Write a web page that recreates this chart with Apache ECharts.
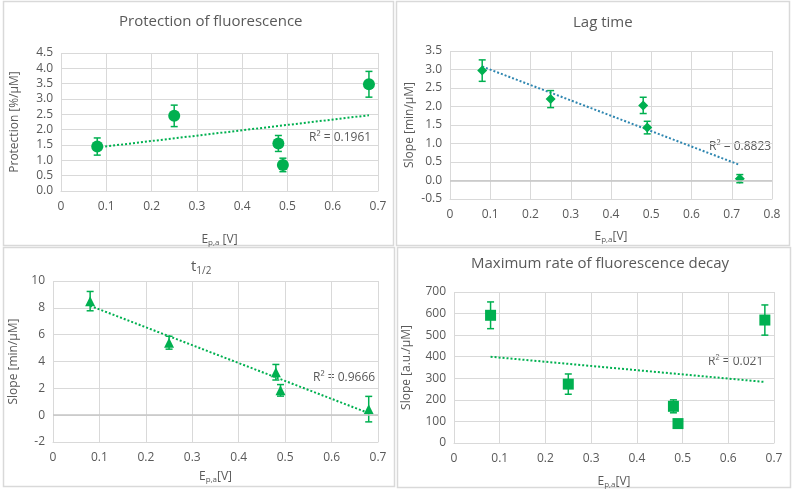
<!DOCTYPE html>
<html>
<head>
<meta charset="utf-8">
<script src="https://cdn.jsdelivr.net/npm/echarts@6/dist/echarts.min.js"></script>
<style>
  html, body { margin: 0; padding: 0; background: #fff; }
  #chart { width: 794px; height: 491px; }
</style>
</head>
<body>
<div id="chart"></div>
<script>
// potentials (x values)
const potentials = [0.08, 0.25, 0.48, 0.49, 0.68]
const lagPotentials = [0.08, 0.25, 0.48, 0.49, 0.72]

// protection of fluorescence [%/uM]
const protValues = [1.45, 2.45, 1.55, 0.85, 3.48]
const protErrors = [0.28, 0.35, 0.26, 0.22, 0.42]
const protTrend = [[0.08, 1.42], [0.68, 2.47]]

// lag time slope [min/uM]
const lagValues = [2.97, 2.2, 2.03, 1.43, 0.05]
const lagErrors = [0.29, 0.23, 0.22, 0.17, 0.11]
const lagTrend = [[0.08, 3.08], [0.72, 0.42]]

// t1/2 slope [min/uM]
const halfValues = [8.5, 5.4, 3.2, 1.85, 0.45]
const halfErrors = [0.72, 0.48, 0.58, 0.43, 0.95]
const halfTrend = [[0.08, 8.15], [0.68, 0.15]]

// maximum rate of fluorescence decay [a.u./uM]
const rateValues = [592, 273, 170, 90, 570]
const rateErrors = [62, 47, 30, 10, 70]
const rateTrend = [[0.08, 400], [0.68, 283]]

const rSquared = ['0.1961', '0.8823', '0.9666', '0.021']

const GREEN = '#00B050'
const TEXT = '#595959'
const GRID = '#d9d9d9'
const FONT = '"Open Sans", "Noto Sans", sans-serif'

const chart = echarts.init(document.getElementById('chart'))

const fmtX = v => (v === 0 ? '0' : v.toFixed(1))
const fmtY1 = v => v.toFixed(1)

const xName = spaced => ({
  name: spaced ? '{e|E}{s|p,a}{e| [V]}' : '{e|E}{s|p,a}{e|[V]}',
  nameLocation: 'middle',
  nameTextStyle: {
    rich: {
      e: { fontSize: 12, color: TEXT, fontFamily: FONT },
      s: { fontSize: 8, color: TEXT, fontFamily: FONT, verticalAlign: 'bottom', padding: [6, 0, 0, 0] }
    }
  }
})

const makeX = (i, max, gap, spaced) => Object.assign(xName(spaced), {
  gridIndex: i,
  type: 'value',
  min: 0,
  max: max,
  interval: 0.1,
  nameGap: gap,
  axisLine: { show: true, onZero: false, lineStyle: { color: GRID } },
  axisTick: { show: false },
  axisLabel: { color: TEXT, fontSize: 12, fontFamily: FONT, formatter: fmtX, margin: 10 },
  splitLine: { show: true, lineStyle: { color: GRID } }
})

const makeY = (i, min, max, interval, name, gap, fmt) => ({
  gridIndex: i,
  type: 'value',
  min: min,
  max: max,
  interval: interval,
  name: name,
  nameLocation: 'middle',
  nameGap: gap,
  nameTextStyle: { color: TEXT, fontSize: 12, fontFamily: FONT },
  axisLine: { show: false },
  axisTick: { show: false },
  axisLabel: { color: TEXT, fontSize: 12, fontFamily: FONT, formatter: fmt, margin: 8 },
  splitLine: { show: true, lineStyle: { color: GRID } }
})

const errorBars = (i, xs, ys, errs) => ({
  type: 'custom',
  xAxisIndex: i,
  yAxisIndex: i,
  z: 3,
  silent: true,
  encode: { x: 0, y: [1, 2] },
  data: xs.map((x, k) => [x, ys[k] - errs[k], ys[k] + errs[k]]),
  renderItem: (params, api) => {
    const lo = api.coord([api.value(0), api.value(1)])
    const hi = api.coord([api.value(0), api.value(2)])
    const w = 3.5
    const st = { stroke: GREEN, lineWidth: 1.5 }
    return {
      type: 'group',
      children: [
        { type: 'line', shape: { x1: lo[0], y1: lo[1], x2: hi[0], y2: hi[1] }, style: st },
        { type: 'line', shape: { x1: lo[0] - w, y1: lo[1], x2: lo[0] + w, y2: lo[1] }, style: st },
        { type: 'line', shape: { x1: hi[0] - w, y1: hi[1], x2: hi[0] + w, y2: hi[1] }, style: st }
      ]
    }
  }
})

const points = (i, xs, ys, symbol, size) => ({
  type: 'scatter',
  xAxisIndex: i,
  yAxisIndex: i,
  z: 4,
  symbol: symbol,
  symbolSize: size,
  itemStyle: { color: GREEN, opacity: 1 },
  data: xs.map((x, k) => [x, ys[k]])
})

const trend = (i, pts, color) => ({
  type: 'line',
  xAxisIndex: i,
  yAxisIndex: i,
  z: 2,
  symbol: 'none',
  silent: true,
  lineStyle: { color: color, width: 2, type: [2, 2] },
  data: pts
})

const zeroLine = i => ({
  type: 'line',
  xAxisIndex: i,
  yAxisIndex: i,
  data: [],
  markLine: {
    silent: true,
    symbol: 'none',
    label: { show: false },
    lineStyle: { color: '#c6c6c6', type: 'solid', width: 1.5 },
    data: [{ yAxis: 0 }]
  }
})

const panelBox = (x, y, w, h) => ({
  type: 'rect',
  shape: { x: x + 0.5, y: y + 0.5, width: w, height: h },
  style: { fill: 'none', stroke: GRID, lineWidth: 1.5 },
  silent: true
})

const rLabel = (x, y, val) => ({
  type: 'text',
  x: x,
  y: y,
  style: { text: 'R² = ' + val, fill: TEXT, font: '12px ' + FONT, textVerticalAlign: 'middle' },
  silent: true
})

const option = {
  animation: false,
  backgroundColor: '#fff',
  title: [
    { text: 'Protection of fluorescence', left: 114, top: 9, textStyle: { color: TEXT, fontSize: 15, fontWeight: 'normal', fontFamily: FONT } },
    { text: 'Lag time', left: 568, top: 10, textStyle: { color: TEXT, fontSize: 15, fontWeight: 'normal', fontFamily: FONT } },
    {
      text: '{t|t}{s|1/2}', left: 186, top: 253,
      textStyle: {
        fontWeight: 'normal',
        rich: {
          t: { color: TEXT, fontSize: 15, fontWeight: 'normal', fontFamily: FONT },
          s: { color: TEXT, fontSize: 10, fontWeight: 'normal', fontFamily: FONT, verticalAlign: 'bottom', padding: [8, 0, 0, 0] }
        }
      }
    },
    { text: 'Maximum rate of fluorescence decay', left: 466, top: 251, textStyle: { color: TEXT, fontSize: 15, fontWeight: 'normal', fontFamily: FONT } }
  ],
  grid: [
    { left: 61, top: 53, width: 317, height: 138 },
    { left: 450, top: 51, width: 322, height: 148 },
    { left: 53, top: 281, width: 325, height: 161 },
    { left: 454, top: 292, width: 320, height: 151 }
  ],
  xAxis: [
    makeX(0, 0.7, 42, true),
    makeX(1, 0.8, 31, false),
    makeX(2, 0.7, 28, false),
    makeX(3, 0.7, 32, false)
  ],
  yAxis: [
    makeY(0, 0, 4.5, 0.5, 'Protection [%/µM]', 40, fmtY1),
    makeY(1, -0.5, 3.5, 0.5, 'Slope [min/µM]', 34, fmtY1),
    makeY(2, -2, 10, 2, 'Slope [min/µM]', 33, null),
    makeY(3, 0, 700, 100, 'Slope [a.u./µM]', 41, null)
  ],
  graphic: [
    panelBox(3, 1, 390, 244),
    panelBox(396, 1, 393, 244),
    panelBox(3, 247, 391, 239),
    panelBox(397, 247, 393, 240),
    rLabel(309, 138, rSquared[0]),
    rLabel(709, 147, rSquared[1]),
    rLabel(313, 378, rSquared[2]),
    rLabel(708, 362, rSquared[3])
  ],
  series: [
    trend(0, protTrend, GREEN),
    errorBars(0, potentials, protValues, protErrors),
    points(0, potentials, protValues, 'circle', 12),

    zeroLine(1),
    trend(1, lagTrend, '#2E86B0'),
    errorBars(1, lagPotentials, lagValues, lagErrors),
    points(1, lagPotentials, lagValues, 'diamond', 10),

    zeroLine(2),
    trend(2, halfTrend, GREEN),
    errorBars(2, potentials, halfValues, halfErrors),
    points(2, potentials, halfValues, 'triangle', 10),

    trend(3, rateTrend, GREEN),
    errorBars(3, potentials, rateValues, rateErrors),
    points(3, potentials, rateValues, 'rect', 11)
  ]
}

chart.setOption(option)
</script>
</body>
</html>
